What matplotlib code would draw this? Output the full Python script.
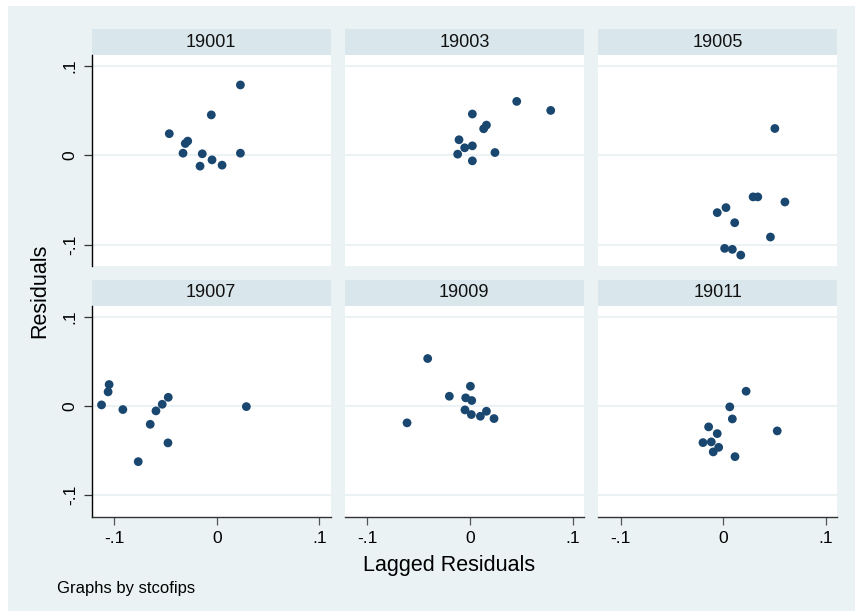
import matplotlib
matplotlib.use('Agg')
import matplotlib.pyplot as plt
from matplotlib.patches import Rectangle

plt.rcParams['font.family'] = ['Liberation Sans', 'DejaVu Sans']

# Panel names (stcofips) and lagged residual / residual pairs
panels = ['19001', '19003', '19005', '19007', '19009', '19011']

lag_19001 = [0.0231, -0.0053, -0.0463, -0.0283, -0.0307, -0.0329, -0.0141, -0.0046, -0.0163, 0.0052, 0.0231]
res_19001 = [0.0785, 0.0450, 0.0240, 0.0157, 0.0130, 0.0022, 0.0015, -0.0053, -0.0123, -0.0112, 0.0022]

lag_19003 = [0.0455, 0.0786, 0.0023, 0.0160, 0.0133, -0.0107, -0.0052, 0.0023, -0.0120, 0.0243, 0.0023]
res_19003 = [0.0601, 0.0500, 0.0460, 0.0336, 0.0295, 0.0172, 0.0082, 0.0104, 0.0011, 0.0029, -0.0064]

lag_19005 = [0.0502, 0.0290, 0.0336, 0.0600, 0.0026, -0.0059, 0.0111, 0.0459, 0.0013, 0.0088, 0.0170]
res_19005 = [0.0298, -0.0467, -0.0467, -0.0524, -0.0587, -0.0643, -0.0756, -0.0916, -0.1043, -0.1054, -0.1118]

lag_19007 = [-0.1124, -0.1050, -0.1060, -0.0916, -0.0766, -0.0649, -0.0593, -0.0532, -0.0473, -0.0476, 0.0289]
res_19007 = [0.0011, 0.0239, 0.0157, -0.0041, -0.0624, -0.0206, -0.0056, 0.0018, 0.0096, -0.0414, -0.0008]

lag_19009 = [-0.0412, -0.0613, -0.0201, 0.0004, -0.0042, 0.0017, -0.0049, 0.0013, 0.0101, 0.0160, 0.0234]
res_19009 = [0.0530, -0.0190, 0.0108, 0.0220, 0.0090, 0.0060, -0.0045, -0.0097, -0.0116, -0.0060, -0.0142]

lag_19011 = [0.0222, 0.0063, 0.0088, -0.0143, -0.0059, 0.0525, -0.0198, -0.0117, -0.0045, -0.0098, 0.0114]
res_19011 = [0.0164, -0.0011, -0.0146, -0.0235, -0.0310, -0.0280, -0.0411, -0.0403, -0.0464, -0.0515, -0.0568]

lags = [lag_19001, lag_19003, lag_19005, lag_19007, lag_19009, lag_19011]
resids = [res_19001, res_19003, res_19005, res_19007, res_19009, res_19011]

ticks = [-0.1, 0, 0.1]
tick_labels = ['-.1', '0', '.1']
y_tick_labels = ['-.1', '0', '.1']

# Stata s2color-ish colours
bg_color = '#EAF2F3'
strip_color = '#D9E6EB'
marker_color = '#1A476F'
grid_color = '#EAF2F3'

W, H = 855, 611
fig = plt.figure(figsize=(W / 100, H / 100), dpi=100, facecolor='white')

# light background, with small white margin at left/top
fig.patches.append(Rectangle((8 / W, 0), 1 - 8 / W, 1 - 6 / H, transform=fig.transFigure,
                             facecolor=bg_color, edgecolor='none', zorder=-10))


def px_box(x0, y0, x1, y1):
    return [x0 / W, 1 - y1 / H, (x1 - x0) / W, (y1 - y0) / H]


col_x = [(91.7, 330.5), (344.7, 584.0), (598.0, 837.3)]
row_y = [(29.3, 55.0, 266.0), (280.0, 305.8, 516.7)]

for i, name in enumerate(panels):
    r, c = divmod(i, 3)
    x0, x1 = col_x[c]
    s0, p0, p1 = row_y[r]

    # strip with panel name
    sax = fig.add_axes(px_box(x0, s0, x1, p0))
    sax.set_facecolor(strip_color)
    sax.set_xticks([])
    sax.set_yticks([])
    for sp in sax.spines.values():
        sp.set_visible(False)
    sax.text(0.5, 0.5, name, ha='center', va='center', fontsize=13, color='#111111',
             transform=sax.transAxes)

    ax = fig.add_axes(px_box(x0, p0, x1, p1))
    ax.set_facecolor('white')
    ax.set_xlim(-0.122, 0.111)
    ax.set_ylim(-0.124, 0.112)
    for yv in ticks:
        ax.axhline(yv, color=grid_color, lw=1.5, zorder=0)
    ax.scatter(lags[i], resids[i], s=40, color=marker_color, edgecolors='none', zorder=3)

    for sp in ax.spines.values():
        sp.set_visible(False)

    ax.set_xticks(ticks)
    ax.set_yticks(ticks)
    if c == 0:
        ax.spines['left'].set_visible(True)
        ax.spines['left'].set_color('black')
        ax.spines['left'].set_linewidth(1.0)
        ax.set_yticklabels(y_tick_labels, rotation=90, va='center', fontsize=12.5)
        ax.tick_params(axis='y', length=6, width=0.9, color='#333333', pad=4)
    else:
        ax.tick_params(axis='y', left=False, labelleft=False)
    if r == 1:
        ax.spines['bottom'].set_visible(True)
        ax.spines['bottom'].set_color('#333333')
        ax.spines['bottom'].set_linewidth(1.0)
        ax.set_xticklabels(tick_labels, fontsize=12.5)
        ax.tick_params(axis='x', length=6, width=0.9, color='#555555', pad=4)
    else:
        ax.tick_params(axis='x', bottom=False, labelbottom=False)

fig.text(40 / W, 1 - 291 / H, 'Residuals', rotation=90, ha='center', va='center', fontsize=15.5)
fig.text(449 / W, 1 - 565 / H, 'Lagged Residuals', ha='center', va='center', fontsize=15.5)
fig.text(57 / W, 1 - 589 / H, 'Graphs by stcofips', ha='left', va='center', fontsize=12)

fig.savefig('out.png', dpi=100, facecolor='white')
